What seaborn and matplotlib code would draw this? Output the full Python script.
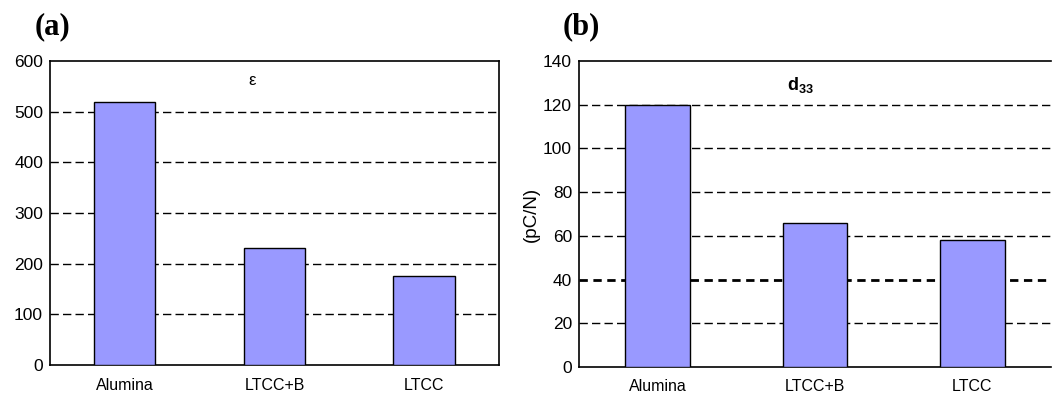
import matplotlib
matplotlib.use("Agg")
import matplotlib.pyplot as plt
import seaborn as sns
import pandas as pd

# Dielectric constant and piezoelectric coefficient for each substrate
categories = ["Alumina", "LTCC+B", "LTCC"]
permittivity = [520, 230, 175]
d33_values = [120, 66, 58]

eps_ticks = [0, 100, 200, 300, 400, 500, 600]
d33_ticks = [0, 20, 40, 60, 80, 100, 120, 140]

sns.set_style("white")
plt.rcParams["font.family"] = ["Liberation Sans", "DejaVu Sans"]
plt.rcParams["mathtext.fontset"] = "custom"
plt.rcParams["mathtext.rm"] = "Liberation Sans"
plt.rcParams["mathtext.bf"] = "Liberation Sans:bold"
plt.rcParams["text.color"] = "black"
plt.rcParams["xtick.color"] = "black"
plt.rcParams["ytick.color"] = "black"
plt.rcParams["axes.labelcolor"] = "black"

bar_color = "#9999FF"

fig = plt.figure(figsize=(10.52, 3.97), dpi=100)
ax_a = fig.add_axes([0.0475, 0.0806, 0.4268, 0.7657])
ax_b = fig.add_axes([0.5504, 0.0756, 0.4487, 0.7710])


def draw_panel(ax, values, ticks, thick_line=None):
    df = pd.DataFrame({"cat": categories, "val": values})
    sns.barplot(data=df, x="cat", y="val", hue="cat", palette=[bar_color] * 3,
                legend=False, width=0.41, edgecolor="black", linewidth=1.0,
                saturation=1, ax=ax, zorder=3)
    ax.set_xlim(-0.5, 2.5)
    ax.set_ylim(ticks[0], ticks[-1])
    ax.set_yticks(ticks)
    ax.set_yticklabels([str(t) for t in ticks], fontsize=12.5)
    ax.set_xticks(range(len(categories)))
    ax.set_xticklabels(categories, fontsize=11.5)
    ax.set_xticks([-0.5, 0.5, 1.5, 2.5], minor=True)
    ax.tick_params(axis="x", which="major", length=0, pad=9)
    ax.tick_params(axis="x", which="minor", length=5, width=1, direction="out", color="black")
    ax.tick_params(axis="y", length=4, width=1, direction="out", color="black", pad=1)
    ax.set_xlabel("")
    ax.set_ylabel("")
    for t in ticks[1:-1]:
        lw = 2.0 if t == thick_line else 1.0
        dash = (0, (3, 2)) if t == thick_line else (0, (6, 3))
        ax.axhline(t, color="black", linestyle=dash, linewidth=lw, zorder=1)
    for s in ax.spines.values():
        s.set_color("black")
        s.set_linewidth(1.2)


draw_panel(ax_a, permittivity, eps_ticks)
draw_panel(ax_b, d33_values, d33_ticks, thick_line=40)
ax_b.spines["right"].set_visible(False)

ax_a.text(0.45, 0.96, "ε", transform=ax_a.transAxes, ha="center", va="top", fontsize=12)
ax_b.text(0.47, 0.955, r"$\mathbf{d}_{\mathbf{33}}$", transform=ax_b.transAxes,
          ha="center", va="top", fontsize=13)
ax_b.set_ylabel("(pC/N)", fontsize=13.5, labelpad=2)

fig.text(0.033, 0.932, "(a)", fontfamily="Liberation Serif", fontweight="bold",
         fontsize=22, va="center")
fig.text(0.535, 0.932, "(b)", fontfamily="Liberation Serif", fontweight="bold",
         fontsize=22, va="center")

fig.savefig("out.png", dpi=100)
